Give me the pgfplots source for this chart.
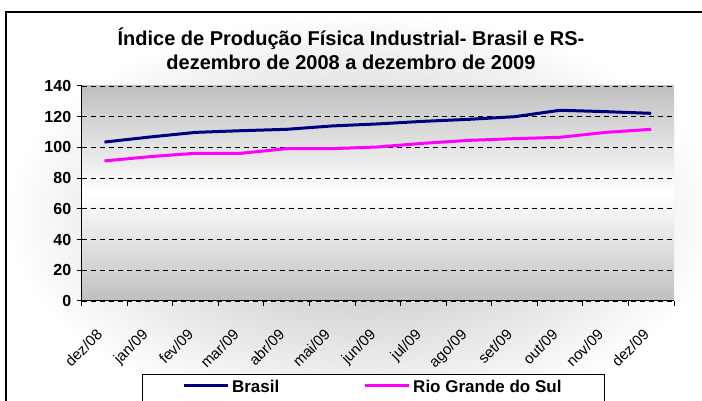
\documentclass[border=0pt]{standalone}
\usepackage{fontspec}
\setmainfont{Liberation Sans}
\usepackage{pgfplots}
\pgfplotsset{compat=1.18}
\definecolor{brasil}{HTML}{000080}
\definecolor{rs}{HTML}{FF00FF}
\begin{document}
\begin{tikzpicture}
\useasboundingbox (0pt,0pt) rectangle (702pt,401pt);
\clip (0pt,0pt) rectangle (702pt,401pt);
\shade[inner color=black!28, outer color=white] (6pt,-20pt) rectangle (720pt,389pt);
\draw[line width=1.5pt] (6pt,-20pt) rectangle (720pt,389pt);
\node[font=\bfseries\fontsize{20}{24}\selectfont, align=center] at (351pt,352pt)
  {Índice de Produção Física Industrial- Brasil e RS-\\dezembro de 2008 a dezembro de 2009};
\begin{axis}[
  at={(81.7pt,100pt)}, anchor=south west, scale only axis,
  width=592.3pt, height=215pt,
  xmin=-0.5, xmax=12.5, ymin=0, ymax=140,
  ytick={0,20,...,140},
  xtick={0,...,12},
  xticklabels={dez/08,jan/09,fev/09,mar/09,abr/09,mai/09,jun/09,jul/09,ago/09,set/09,out/09,nov/09,dez/09},
  minor xtick={-0.5,0.5,...,12.5},
  axis lines*=left,
  axis line style={line width=1pt},
  major x tick style={draw=none},
  minor x tick style={line width=1pt, black},
  major y tick style={line width=1pt, black},
  tick align=outside, major tick length=5pt, minor tick length=5pt,
  ymajorgrids,
  grid style={black, line width=0.8pt, dash pattern=on 5pt off 4pt},
  axis background/.style={top color=black!25, bottom color=black!25, middle color=white},
  /pgf/number format/assume math mode=true,
  yticklabel style={font=\bfseries\fontsize{16}{16}\selectfont, xshift=-2pt},
  xticklabel style={font=\fontsize{15}{15}\selectfont, inner sep=0pt, xshift=-9pt, yshift=-22pt, rotate=45, anchor=north east},
  legend columns=2,
  legend style={at={(0.1018,-0.3395)}, anchor=north west, draw=black, line width=1pt, fill=white,
    inner xsep=40pt, inner ysep=3pt, font=\bfseries\fontsize{17}{17}\selectfont,
    nodes={inner sep=2.5pt, text depth=14pt},
    /tikz/every even column/.append style={column sep=82pt}},
  legend image code/.code={\draw[#1] (0pt,8pt) -- (44pt,8pt);},
]
\addplot[brasil, line width=3pt] coordinates {
 (0,103.5) (1,106.8) (2,109.8) (3,110.9) (4,111.8) (5,114) (6,115.3) (7,117) (8,118.3) (9,120) (10,124.2) (11,123.3) (12,122.2)};
\addlegendentry{Brasil}
\addplot[rs, line width=3pt] coordinates {
 (0,91.2) (1,94) (2,96.2) (3,96.2) (4,99.2) (5,99.2) (6,100.3) (7,102.7) (8,104.6) (9,105.7) (10,106.6) (11,109.8) (12,111.8)};
\addlegendentry{Rio Grande do Sul}
\end{axis}
\end{tikzpicture}
\end{document}
